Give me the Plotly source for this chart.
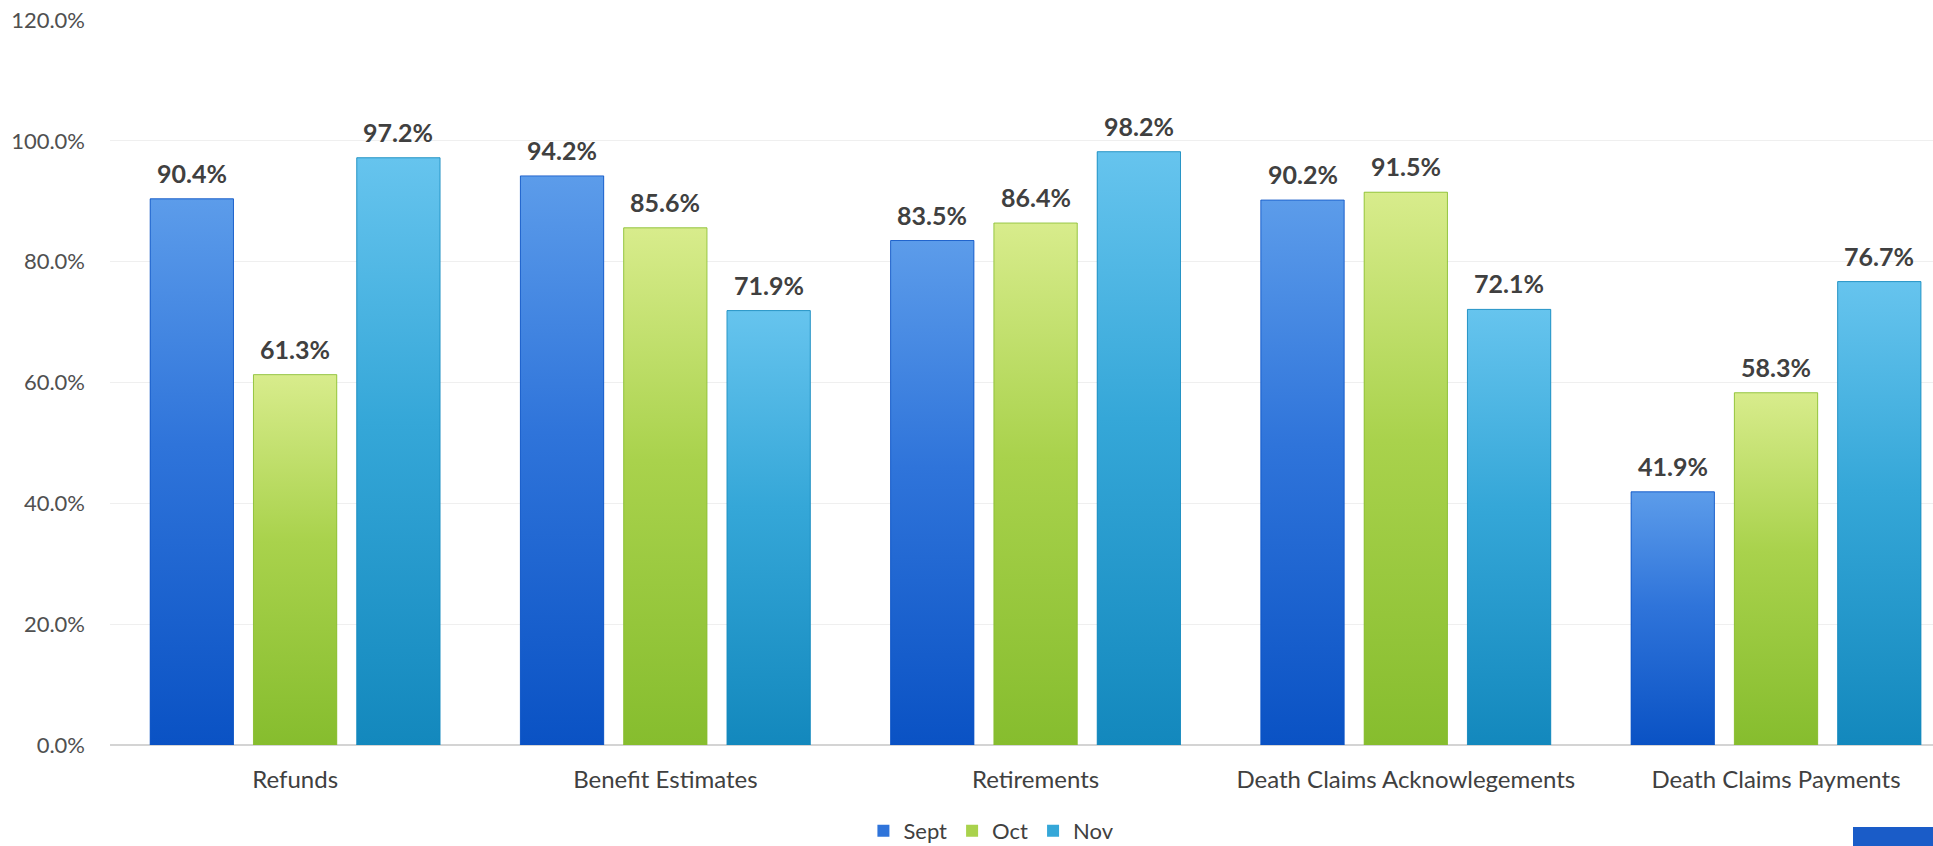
import plotly.graph_objects as go

categories = ["Refunds", "Benefit Estimates", "Retirements", "Death Claims Acknowlegements", "Death Claims Payments"]
series_names = ["Sept", "Oct", "Nov"]
sept = [0.904, 0.942, 0.835, 0.902, 0.419]
oct_ = [0.613, 0.856, 0.864, 0.915, 0.583]
nov = [0.972, 0.719, 0.982, 0.721, 0.767]
y_ticks = [0.0, 0.2, 0.4, 0.6, 0.8, 1.0, 1.2]

series_values = [sept, oct_, nov]
mid_colors = ["#2f74da", "#a9d24c", "#35a7d8"]
top_colors = ["#5c9cea", "#d8ec8c", "#66c4ee"]
bot_colors = ["#0a52c4", "#86bd2e", "#1388bd"]

BAR_W = 0.225
PITCH = 0.279

fig = go.Figure()
xs = list(range(len(categories)))

for i, (name, vals) in enumerate(zip(series_names, series_values)):
    off = (i - 1) * PITCH - BAR_W / 2
    fig.add_trace(go.Bar(
        x=xs, y=vals, name=name,
        width=BAR_W, offset=off,
        marker=dict(color=mid_colors[i], line=dict(width=0)),
    ))

# gradient overlays drawn from the same data
for i, vals in enumerate(series_values):
    for xi, v in zip(xs, vals):
        x0 = xi + (i - 1) * PITCH - BAR_W / 2
        x1 = x0 + BAR_W
        fig.add_trace(go.Scatter(
            x=[x0, x1, x1, x0, x0], y=[0, 0, v, v, 0],
            mode="lines", fill="toself",
            line=dict(width=0.8, color=bot_colors[i]),
            fillgradient=dict(type="vertical",
                              colorscale=[[0, bot_colors[i]], [0.55, mid_colors[i]], [1, top_colors[i]]]),
            hoverinfo="skip", showlegend=False,
        ))
        fig.add_annotation(
            x=xi + (i - 1) * PITCH, y=v, text=f"{v*100:.1f}%",
            showarrow=False, yanchor="bottom", yshift=9,
            font=dict(family="Lato", size=25, color="#404040", weight="bold"),
        )

fig.update_layout(
    width=1933, height=846,
    margin=dict(l=110, r=0, t=20, b=101, autoexpand=False),
    plot_bgcolor="white", paper_bgcolor="white",
    barmode="overlay",
    font=dict(family="Lato", color="#404040"),
    showlegend=True,
    legend=dict(orientation="h", x=0.4835, xanchor="center",
                yref="container", y=(846 - 831) / 846, yanchor="middle",
                font=dict(size=22, color="#404040"), traceorder="normal",
                itemwidth=30),
)
fig.update_xaxes(
    range=[-0.5, 4.424],
    tickmode="array", tickvals=xs, ticktext=categories,
    tickfont=dict(size=24, color="#404040"),
    showgrid=False, zeroline=False, showline=False, ticks="",
    ticklabelstandoff=18, automargin=False,
)
fig.update_yaxes(
    range=[0, 1.2],
    tickmode="array", tickvals=y_ticks, tickformat=".1%",
    tickfont=dict(size=22, color="#505050"),
    showgrid=True, gridcolor="#efefef", gridwidth=1,
    zeroline=True, zerolinecolor="#d4d4d4", zerolinewidth=2,
    showline=False, ticks="",
    ticklabelstandoff=24, automargin=False,
)
# small corner logo fragment
fig.add_shape(type="rect", xref="paper", yref="paper",
              x0=(1853 - 110) / 1823, x1=1.0, y0=-101 / 725, y1=-(827 - 745) / 725,
              fillcolor="#1a5cc8", line=dict(width=0), layer="above")

fig.write_html("out.html")
